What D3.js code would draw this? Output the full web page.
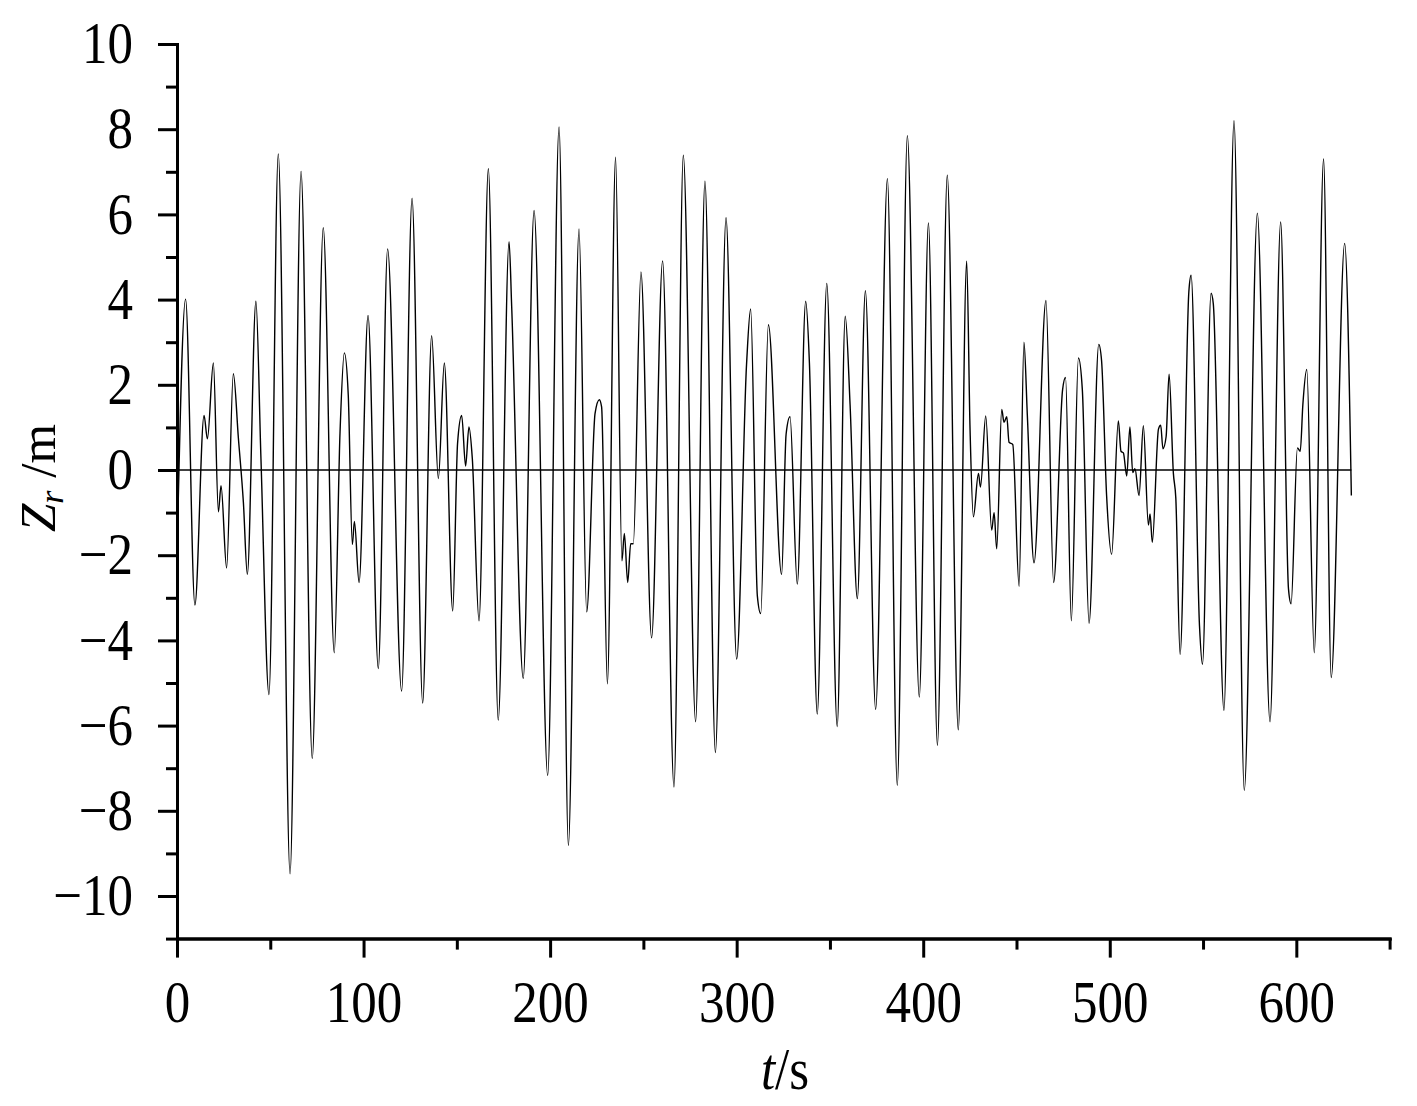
<!DOCTYPE html>
<html lang="en">

<head>
  <meta charset="UTF-8">
  <title>Zr time history</title>
  <script src="https://d3js.org/d3.v7.min.js"></script>
  <style>
    body { margin: 0; background: #fff; }
    text { font-family: "Liberation Serif", "DejaVu Serif", serif; fill: #000; }
  </style>
</head>

<body>
  <svg id="chart" width="1417" height="1106"></svg>
  <script>
    // peaks, troughs and shoulders
    let timeS = [0, 4.6, 9.6, 14.5, 16.3, 19.5, 22.2, 23.6, 26.6, 30.2, 32.9, 35.6, 37.7, 42.3, 45.0, 49.3,
      54.3, 60.6, 66.5, 72.5, 78.4, 84.3, 87.4, 89.7, 91.8, 94.0, 95.1, 97.6, 102.4, 107.9, 112.9, 120.4,
      126.0, 131.7, 136.5, 140.1, 143.3, 147.8, 150.4, 152.6, 154.7, 156.5, 158.3, 161.9, 166.9, 172.2,
      178.0, 179.4, 185.6, 191.4, 198.7, 204.8, 209.8, 215.5, 219.6, 224.1, 226.4, 227.6, 230.7, 235.1,
      238.5, 239.8, 241.6, 243.2, 244.6, 248.7, 254.4, 260.3, 266.4, 271.4, 278.0, 283.0, 288.6, 294.3,
      300.0, 305.3, 307.5, 311.1, 312.9, 317.0, 324.1, 326.5, 328.6, 332.5, 337.0, 339.0, 343.2, 348.3,
      353.9, 358.2, 360.8, 364.7, 369.0, 374.5, 380.8, 386.1, 391.5, 397.9, 402.8, 407.6, 412.9, 418.8,
      423.3, 425.1, 426.9, 429.6, 430.7, 433.5, 436.7, 438.0, 439.4, 442.1, 443.3, 444.8, 446.0, 448.0,
      451.4, 454.0, 455.8, 459.4, 465.8, 469.9, 474.7, 476.3, 479.4, 483.2, 485.3, 488.9, 494.1, 495.6,
      498.3, 501.0, 504.6, 506.0, 507.3, 509.1, 510.8, 512.3, 513.5, 515.7, 518.0, 520.7, 521.6, 522.8,
      526.1, 527.3, 528.5, 530.2, 531.8, 534.1, 535.4, 537.7, 542.4, 543.6, 548.1, 549.7, 554.3, 555.5,
      561.2, 566.6, 572.1, 579.1, 585.9, 591.6, 595.8, 597.2, 600.6, 602.1, 603.5, 605.6, 609.6, 614.6,
      618.7, 625.9, 629.5];

    let zr = [-2.0, 4.01, -3.17, 1.28, 0.73, 2.51, -0.98, -0.37, -2.30, 2.26, 0.75, -0.77, -2.45, 3.96, 0.27, -5.27,
      7.42, -9.48, 7.01, -6.77, 5.69, -4.29, 0.90, 2.75, 1.76, -1.75, -1.21, -2.64, 3.63, -4.66, 5.19, -5.19,
      6.38, -5.47, 3.15, -0.20, 2.51, -3.31, 0.63, 1.28, 0.09, 1.01, 0.27, -3.54, 7.07, -5.87,
      5.36, 3.84, -4.89, 6.09, -7.17, 8.05, -8.81, 5.66, -3.33, 1.33, 1.65, 1.48, -5.02, 7.34,
      -2.13, -1.49, -2.64, -1.73, -1.73, 4.65, -3.94, 4.91, -7.44, 7.39, -5.91, 6.78, -6.63, 5.92,
      -4.44, 2.48, 3.78, -2.96, -3.37, 3.41, -2.45, 0.84, 1.25, -2.68, 3.96, 2.51, -5.73, 4.38,
      -6.02, 3.61, 1.53, -3.02, 4.21, -5.62, 6.84, -7.40, 7.85, -5.33, 5.80, -6.46, 6.92, -6.10,
      4.90, 0.96, -1.10, -0.08, -0.40, 1.27, -1.41, -1.00, -1.85, 1.42, 1.12, 1.25, 0.65, 0.60,
      -2.73, 3.00, 1.30, -2.18, 3.98, -2.64, 1.88, 2.17, -3.54, 2.63, 1.88, -3.60, 2.95, 2.57,
      -0.60, -1.98, 1.15, 0.44, 0.40, -0.14, 1.01, -0.06, 0.03, -0.60, 1.04, -1.29, -1.03, -1.70,
      0.96, 1.05, 0.50, 0.78, 2.25, -0.08, -0.66, -4.33, 4.19, 4.57, -3.66, -4.56, 4.15, 3.90,
      -5.64, 8.20, -7.52, 6.03, -5.91, 5.82, -2.79, -3.14, 0.52, 0.44, 1.53, 2.36, -4.29, 7.30,
      -4.87, 5.32, -0.60];

    let zeroLineT = [0, 629.5];

    let xMajor = [0, 100, 200, 300, 400, 500, 600];
    let xMinor = [50, 150, 250, 350, 450, 550, 650];
    let yMajor = [-10, -8, -6, -4, -2, 0, 2, 4, 6, 8, 10];
    let yMinor = [-11, -9, -7, -5, -3, -1, 1, 3, 5, 7, 9];

    let svg = d3.select('#chart');
    let data = timeS.map(function (t, i) { return { t: t, z: zr[i] }; });

    let x = d3.scaleLinear().domain([0, 650]).range([177, 1389.6]);
    let y = d3.scaleLinear().domain([-11, 10]).range([938.6, 44]);

    // zero reference line
    svg.append('path')
      .datum(zeroLineT)
      .attr('fill', 'none')
      .attr('stroke', '#000')
      .attr('stroke-width', 1.3)
      .attr('d', d3.line().x(function (d) { return x(d); }).y(function () { return y(0); }));

    // the signal
    svg.append('path')
      .datum(data)
      .attr('fill', 'none')
      .attr('stroke', '#000')
      .attr('stroke-width', 1.4)
      .attr('stroke-linejoin', 'round')
      .attr('d', d3.line()
        .curve(d3.curveMonotoneX)
        .x(function (d) { return x(d.t); })
        .y(function (d) { return y(d.z); }));

    // axes: major ticks with labels, minor ticks without
    let fmt = d3.format('d');
    let stretch = 1.15; // the printed digits are taller than plain Times

    let gx = svg.append('g').attr('transform', 'translate(0,' + y(-11) + ')');
    gx.append('g').call(d3.axisBottom(x).tickValues(xMinor).tickSize(11).tickSizeOuter(0).tickFormat(''));
    gx.append('g').attr('class', 'xmaj')
      .call(d3.axisBottom(x).tickValues(xMajor).tickSize(19).tickSizeOuter(0).tickFormat(fmt).tickPadding(17));

    let gy = svg.append('g').attr('transform', 'translate(' + x(0) + ',0)');
    gy.append('g').call(d3.axisLeft(y).tickValues(yMinor).tickSize(11).tickSizeOuter(0).tickFormat(''));
    gy.append('g').attr('class', 'ymaj')
      .call(d3.axisLeft(y).tickValues(yMajor).tickSize(19).tickSizeOuter(0).tickFormat(fmt).tickPadding(25));

    svg.selectAll('.domain').attr('stroke-width', 3).attr('stroke-linecap', 'square');
    svg.selectAll('.tick line').attr('stroke-width', 3);
    svg.selectAll('.tick text')
      .attr('font-family', '"Liberation Serif", serif')
      .attr('font-size', 51)
      .attr('transform', 'scale(1,' + stretch + ')');

    // axis titles
    let xt = svg.append('text')
      .attr('transform', 'translate(785,1089) scale(1,' + stretch + ')')
      .attr('text-anchor', 'middle')
      .attr('font-size', 51);
    xt.append('tspan').attr('font-style', 'italic').text('t');
    xt.append('tspan').text('/s');

    let yt = svg.append('text')
      .attr('transform', 'translate(55,478) rotate(-90)')
      .attr('text-anchor', 'middle')
      .attr('font-size', 51);
    yt.append('tspan').attr('font-style', 'italic').text('Z');
    yt.append('tspan').attr('font-style', 'italic').attr('font-size', 34).attr('dy', 8).text('r');
    yt.append('tspan').attr('dy', -8).text(' /m');
  </script>
</body>

</html>
